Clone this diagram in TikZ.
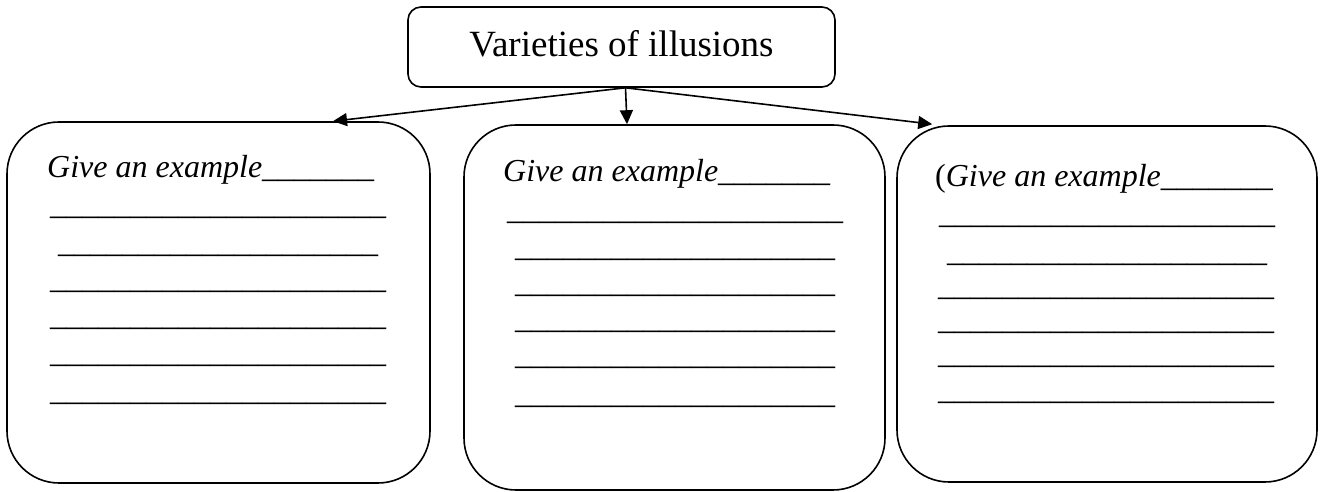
\documentclass[tikz,border=0pt]{standalone}
\usepackage{fontspec}
\setmainfont{Liberation Serif}
\usetikzlibrary{arrows.meta}
\ExplSyntaxOn
\cs_new:Npn \myblanks #1 {\prg_replicate:nn{#1}{\_}}
\ExplSyntaxOff
\begin{document}
\begin{tikzpicture}[x=1pt,y=1pt,
  panel/.style={draw, line width=1.6pt, rounded corners=52pt, inner sep=0pt},
  titlebox/.style={draw, line width=1.6pt, rounded corners=13pt, inner sep=0pt,
    text height=19pt, text depth=0pt,
    font=\fontsize{37}{40}\selectfont},
  wline/.style={anchor=base west, inner sep=0pt, font=\fontsize{32}{37}\selectfont},
  arr/.style={line width=1.6pt, -{Triangle[length=14pt,width=13pt]}}]
\useasboundingbox (0,0) rectangle (1320,492);

% title
\node[titlebox, minimum width=427pt, minimum height=80pt] (T) at (621.5,445) {Varieties of illusions};

% left panel
\node[panel, minimum width=423pt, minimum height=361pt] (L) at (218.5,189.5) {};
\node[wline] (L0) at (47,314) {\textit{Give an example}\myblanks{7}};
\node[wline] (L1) at (50,277) {\myblanks{21}};
\node[wline] (L2) at (58,239) {\myblanks{20}};
\node[wline] (L3) at (50,203) {\myblanks{21}};
\node[wline] (L4) at (50,166) {\myblanks{21}};
\node[wline] (L5) at (50,129) {\myblanks{21}};
\node[wline] (L6) at (50,91) {\myblanks{21}};

% middle panel
\node[panel, minimum width=421pt, minimum height=365pt] (M) at (674.5,184.5) {};
\node[wline] (M0) at (503,310) {\textit{Give an example}\myblanks{7}};
\node[wline] (M1) at (507,272) {\myblanks{21}};
\node[wline] (M2) at (515,235) {\myblanks{20}};
\node[wline] (M3) at (515,199) {\myblanks{20}};
\node[wline] (M4) at (515,163) {\myblanks{20}};
\node[wline] (M5) at (515,127) {\myblanks{20}};
\node[wline] (M6) at (515,88) {\myblanks{20}};

% right panel
\node[panel, minimum width=420pt, minimum height=356pt] (R) at (1107,188) {};
\node[wline] (R0) at (935,305) {(\textit{Give an example}\myblanks{7}};
\node[wline] (R1) at (939,268) {\myblanks{21}};
\node[wline] (R2) at (947,230) {\myblanks{20}};
\node[wline] (R3) at (938,196) {\myblanks{21}};
\node[wline] (R4) at (938,162) {\myblanks{21}};
\node[wline] (R5) at (938,128) {\myblanks{21}};
\node[wline] (R6) at (938,92) {\myblanks{21}};

% connectors
\draw[arr] ([xshift=4pt]T.south) -- ([xshift=114.5pt]L.north);
\draw[arr] ([xshift=4pt]T.south) -- ([xshift=-47.5pt]M.north);
\draw[arr] ([xshift=4pt]T.south) -- ([xshift=36pt,yshift=1pt]R.north west);
\end{tikzpicture}
\end{document}
